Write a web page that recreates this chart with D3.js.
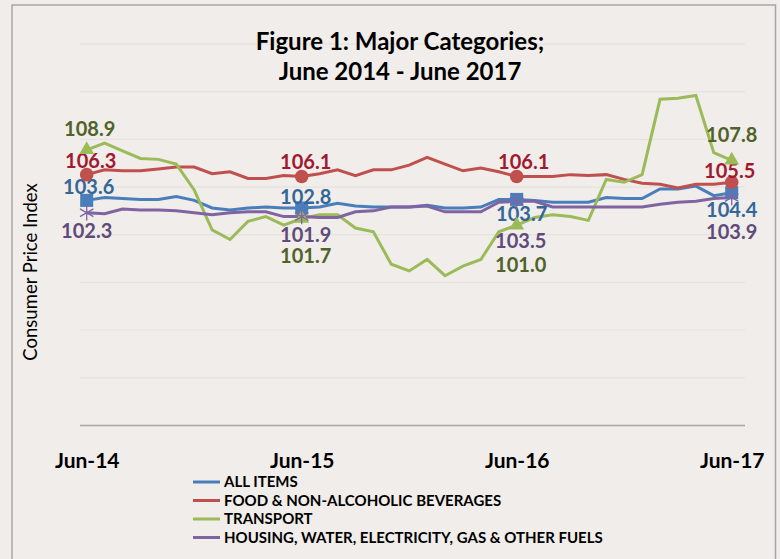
<!DOCTYPE html>
<html>
<head>
<meta charset='UTF-8'>
<title>Major Categories CPI</title>
<script src='https://cdn.jsdelivr.net/npm/d3@7/dist/d3.min.js'></script>
<style>
  body {margin:0; background:#fff;}
  .line {fill:none; stroke-width:3px;}
  text {font-family:Lato, 'Open Sans', sans-serif;}
</style>
</head>
<body>
<div id='lineChart'></div>
<script>
// monthly index, Jun-14 .. Jun-17
var months = d3.range(37);
var tickLabels = ['Jun-14', 'Jun-15', 'Jun-16', 'Jun-17'];
var tickMonths = [0, 12, 24, 36];

var allItems = [103.6, 103.9, 103.8, 103.7, 103.7, 104.0, 103.6, 102.8, 102.6, 102.8, 102.9, 102.8,
  102.8, 102.9, 103.3, 103.0, 102.9, 102.9, 102.9, 103.1, 102.8, 102.8, 102.9, 103.7,
  103.7, 103.6, 103.4, 103.4, 103.4, 103.9, 103.8, 103.8, 104.8, 104.8, 105.1, 104.1, 104.4];
var food = [106.3, 106.8, 106.7, 106.7, 106.9, 107.1, 107.1, 106.4, 106.6, 105.9, 105.9, 106.2,
  106.1, 106.4, 106.8, 106.2, 106.8, 106.8, 107.3, 108.1, 107.4, 106.7, 107.0, 106.6,
  106.1, 106.1, 106.1, 106.3, 106.2, 106.3, 105.8, 105.4, 105.3, 104.9, 105.3, 105.3, 105.5];
var transport = [108.9, 109.6, 108.8, 108.0, 107.9, 107.4, 104.7, 100.5, 99.5, 101.4, 101.9, 101.0,
  101.7, 102.1, 102.1, 100.7, 100.3, 96.9, 96.2, 97.4, 95.7, 96.7, 97.4, 100.3,
  101.0, 101.8, 102.1, 101.9, 101.5, 105.8, 105.5, 106.3, 114.2, 114.3, 114.6, 108.6, 107.8];
var housing = [102.3, 102.2, 102.7, 102.6, 102.6, 102.5, 102.3, 102.1, 102.3, 102.4, 102.4, 101.9,
  101.9, 101.8, 101.8, 102.4, 102.5, 102.9, 102.9, 103.0, 102.4, 102.4, 102.4, 103.4,
  103.5, 103.5, 102.9, 102.9, 102.9, 102.9, 102.9, 102.9, 103.2, 103.4, 103.5, 103.8, 103.9];

var seriesNames = ['ALL ITEMS', 'FOOD & NON-ALCOHOLIC BEVERAGES', 'TRANSPORT',
  'HOUSING, WATER, ELECTRICITY, GAS & OTHER FUELS'];
var lineColors = ['#4A7EBB', '#C0504D', '#9BBB59', '#8064A2'];
var labelColors = ['#336699', '#A0192F', '#4F6228', '#5F4A7C'];
var markers = ['square', 'circle', 'triangle', 'asterisk'];

// label offsets per series at each labelled month [dx, dy]
var labelOffsets = [
  [[2, -13], [4, -11], [5, 15], [0, 17]],
  [[4, -14], [4, -15], [7, -15], [-2, -11]],
  [[3, -21], [4, 38], [4, 40], [0, -25]],
  [[0, 18], [4, 18], [4, 40], [0, 34]]
];

var data = seriesNames.map(function(name, i) {
  var vals = [allItems, food, transport, housing][i];
  return {name: name, values: vals.map(function(v, m) { return {month: m, value: v}; })};
});

var width = 780;
var height = 559;

var xScale = d3.scaleLinear().domain([0, 36]).range([86.7, 731.7]);
var yScale = d3.scaleLinear().domain([80, 120]).range([425.4, 44]);

var svg = d3.select('#lineChart').append('svg')
  .attr('width', width)
  .attr('height', height);

svg.append('rect')
  .attr('width', width).attr('height', height)
  .attr('fill', '#F0EDEA');

svg.append('rect')
  .attr('x', 12).attr('y', 5)
  .attr('width', 763.5).attr('height', 560)
  .attr('fill', '#F0EDEA')
  .attr('stroke', '#A6A6A6')
  .attr('stroke-width', 1.5);

/* gridlines */
svg.append('g')
  .selectAll('line')
  .data(d3.range(85, 121, 5)).enter()
  .append('line')
  .attr('x1', 80).attr('x2', 745)
  .attr('y1', d => yScale(d)).attr('y2', d => yScale(d))
  .attr('stroke', '#E4E0DC')
  .attr('stroke-width', 1);

/* x axis */
var xAxis = d3.axisBottom(xScale)
  .tickValues(tickMonths)
  .tickFormat((d, i) => tickLabels[i])
  .tickSize(0)
  .tickPadding(28);

var gx = svg.append('g')
  .attr('class', 'x axis')
  .attr('transform', `translate(0, ${yScale(80)})`)
  .call(xAxis);
gx.select('.domain').remove();
gx.append('line')
  .attr('x1', 80).attr('x2', 745)
  .attr('stroke', '#A6A6A6').attr('stroke-width', 1.5);
gx.selectAll('.tick text')
  .attr('font-family', 'Lato, sans-serif')
  .attr('font-size', 21)
  .attr('font-weight', 'bold')
  .attr('fill', '#000');

/* y axis title */
svg.append('text')
  .attr('transform', 'translate(37, 272) rotate(-90)')
  .attr('text-anchor', 'middle')
  .attr('font-size', 18.5)
  .attr('fill', '#000')
  .text('Consumer Price Index');

/* title */
svg.append('text')
  .attr('x', 400).attr('y', 50)
  .attr('text-anchor', 'middle')
  .attr('font-size', 24).attr('font-weight', 'bold')
  .text('Figure 1: Major Categories;');
svg.append('text')
  .attr('x', 400).attr('y', 80)
  .attr('text-anchor', 'middle')
  .attr('font-size', 24).attr('font-weight', 'bold')
  .text('June 2014 - June 2017');

/* lines */
var line = d3.line()
  .x(d => xScale(d.month))
  .y(d => yScale(d.value));

var lines = svg.append('g').attr('class', 'lines');
lines.selectAll('.line')
  .data(data).enter()
  .append('path')
  .attr('class', 'line')
  .attr('d', d => line(d.values))
  .style('stroke', (d, i) => lineColors[i]);

/* markers + labels at labelled months */
var sym = {
  square: d3.symbol().type(d3.symbolSquare).size(170),
  circle: d3.symbol().type(d3.symbolCircle).size(145),
  triangle: d3.symbol().type(d3.symbolTriangle).size(95),
  asterisk: d3.symbol().type(d3.symbolAsterisk).size(170)
};

data.forEach(function(s, i) {
  var pts = s.values.filter(d => tickMonths.indexOf(d.month) >= 0);
  var g = svg.append('g');
  g.selectAll('path')
    .data(pts).enter()
    .append('path')
    .attr('transform', d => `translate(${xScale(d.month)}, ${yScale(d.value)})`)
    .attr('d', sym[markers[i]]())
    .attr('fill', markers[i] === 'asterisk' ? 'none' : lineColors[i])
    .attr('stroke', lineColors[i])
    .attr('stroke-width', markers[i] === 'asterisk' ? 1.3 : 0);
  g.selectAll('text')
    .data(pts).enter()
    .append('text')
    .attr('x', (d, j) => xScale(d.month) + labelOffsets[i][j][0])
    .attr('y', (d, j) => yScale(d.value) + labelOffsets[i][j][1])
    .attr('dy', '0.35em')
    .attr('text-anchor', 'middle')
    .attr('font-size', 20).attr('font-weight', 'bold')
    .attr('fill', labelColors[i])
    .text(d => d.value.toFixed(1));
});

/* legend */
var legend = svg.append('g').attr('transform', 'translate(193, 482)');
var rows = legend.selectAll('g')
  .data(seriesNames).enter()
  .append('g')
  .attr('transform', (d, i) => `translate(0, ${i * 18.5})`);
rows.append('line')
  .attr('x1', 0).attr('x2', 27)
  .attr('stroke', (d, i) => lineColors[i])
  .attr('stroke-width', 3);
rows.append('text')
  .attr('x', 31).attr('dy', '0.35em')
  .attr('font-size', 15).attr('font-weight', 'bold')
  .text(d => d);
</script>
</body>
</html>
